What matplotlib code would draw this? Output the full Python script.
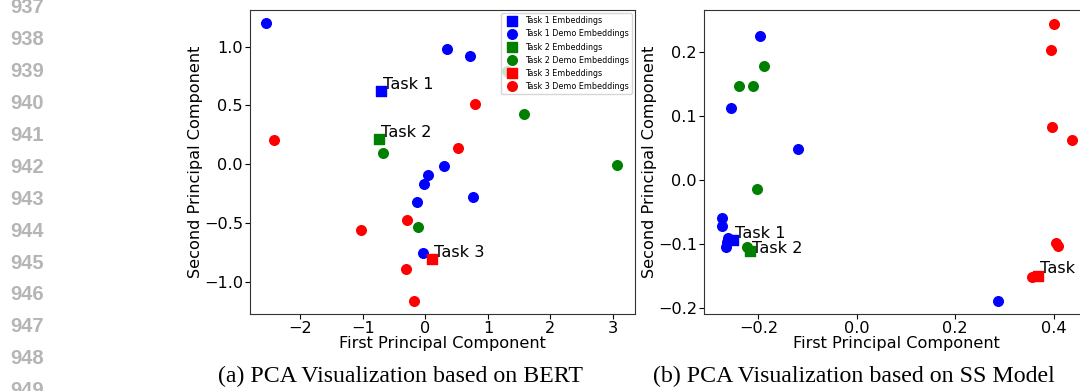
import matplotlib
matplotlib.use('Agg')
import matplotlib.pyplot as plt

# ---- BERT PCA (panel a) ----
bert_t1_emb = [(-0.71, 0.62)]
bert_t1_demo = [(-2.55, 1.20), (0.35, 0.98), (0.72, 0.92), (0.30, -0.01),
                (0.05, -0.09), (-0.02, -0.17), (-0.14, -0.32), (0.77, -0.28),
                (-0.04, -0.75)]
bert_t2_emb = [(-0.74, 0.215)]
bert_t2_demo = [(-0.67, 0.096), (1.57, 0.43), (3.06, -0.006), (-0.12, -0.53),
                (1.30, 0.79)]
bert_t3_emb = [(0.10, -0.80)]
bert_t3_demo = [(-2.41, 0.21), (0.80, 0.51), (0.53, 0.14), (-0.30, -0.47),
                (-1.02, -0.56), (-0.31, -0.89), (-0.18, -1.16)]

# ---- SS model PCA (panel b) ----
ss_t1_emb = [(-0.251, -0.094)]
ss_t1_demo = [(-0.197, 0.225), (-0.256, 0.112), (-0.120, 0.049),
              (-0.275, -0.060), (-0.273, -0.072), (-0.261, -0.090),
              (-0.266, -0.104), (-0.263, -0.097), (0.287, -0.189)]
ss_t2_emb = [(-0.218, -0.110)]
ss_t2_demo = [(-0.239, 0.147), (-0.211, 0.147), (-0.189, 0.177),
              (-0.202, -0.014), (-0.224, -0.104)]
ss_t3_emb = [(0.369, -0.149)]
ss_t3_demo = [(0.401, 0.243), (0.395, 0.2025), (0.397, 0.083), (0.437, 0.063),
              (0.405, -0.099), (0.409, -0.1026), (0.357, -0.152)]

colors = ['blue', 'green', 'red']
line_numbers = list(range(937, 950))
captions = ['(a) PCA Visualization based on BERT',
            '(b) PCA Visualization based on SS Model']

W, H = 1080, 391
FS = 11.6
fig = plt.figure(figsize=(W / 100, H / 100), dpi=100)


def draw(ax, groups, offsets, legend):
    for i, (emb, demo) in enumerate(groups):
        c = colors[i]
        ax.scatter([p[0] for p in emb], [p[1] for p in emb], marker='s',
                   s=48, color=c, label=f'Task {i + 1} Embeddings', zorder=3)
        ax.scatter([p[0] for p in demo], [p[1] for p in demo], marker='o',
                   s=48, color=c, label=f'Task {i + 1} Demo Embeddings',
                   zorder=3)
    for i, (emb, _) in enumerate(groups):
        ax.annotate(f'Task {i + 1}', emb[0], xytext=offsets[i],
                    textcoords='offset points', fontsize=FS, zorder=4)
    ax.set_xlabel('First Principal Component', fontsize=FS, labelpad=0)
    ax.set_ylabel('Second Principal Component', fontsize=FS, labelpad=1)
    ax.tick_params(labelsize=FS, pad=1.5)
    for sp in ax.spines.values():
        sp.set_color('#333333')
    if legend:
        ax.legend(loc='upper right', fontsize=5.8, borderaxespad=0.4,
                  handletextpad=0.6)


ax1 = fig.add_axes([250 / W, 1 - 314 / H, 385 / W, 304 / H])
draw(ax1, [(bert_t1_emb, bert_t1_demo), (bert_t2_emb, bert_t2_demo),
           (bert_t3_emb, bert_t3_demo)],
     [(1.5, 1.5), (1.5, 1.5), (1.5, 1.5)], True)
ax1.set_xlim(-2.80, 3.35)
ax1.set_ylim(-1.27, 1.31)
ax1.set_yticks([-1.0, -0.5, 0.0, 0.5, 1.0])

ax2 = fig.add_axes([704 / W, 1 - 314 / H, 385 / W, 304 / H])
draw(ax2, [(ss_t1_emb, ss_t1_demo), (ss_t2_emb, ss_t2_demo),
           (ss_t3_emb, ss_t3_demo)],
     [(1.5, 1.5), (1.5, -2), (1.5, 1.5)], False)
ax2.set_xlim(-0.3106, 0.472)
ax2.set_ylim(-0.209, 0.265)
ax2.set_xticks([-0.2, 0.0, 0.2, 0.4])

# captions
fig.text(400 / W, 1 - 376 / H, captions[0], ha='center', va='center',
         fontsize=17.2, family='Liberation Serif')
fig.text(854 / W, 1 - 376 / H, captions[1], ha='center', va='center',
         fontsize=17.2, family='Liberation Serif')

# page line numbers
for k, n in enumerate(line_numbers):
    fig.text(44 / W, 1 - (7.6 + k * 31.93) / H, str(n), ha='right',
             va='center', fontsize=14.5, fontweight='bold',
             family='Liberation Sans', color='#b5b5b5')

fig.savefig('out.png', dpi=100)
